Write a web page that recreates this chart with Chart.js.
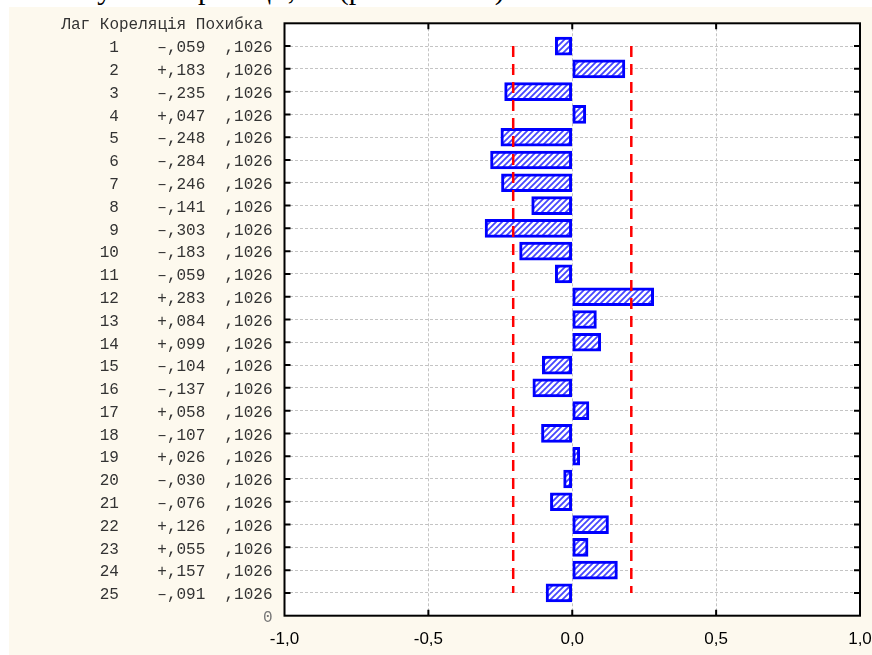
<!DOCTYPE html>
<html>
<head>
<meta charset="utf-8">
<script src="https://cdn.jsdelivr.net/npm/chart.js@4.4.1/dist/chart.umd.min.js"></script>
<style>
  html, body { margin: 0; padding: 0; background: #fff; overflow: hidden; width: 872px; height: 655px; position: relative; }
  #head { position: absolute; left: 21px; top: -25.6px; font: 30px/30px "Liberation Serif", "Times New Roman", serif; white-space: nowrap; color: #000; }
  #panel { position: absolute; left: 9px; top: 7px; width: 883px; height: 648px; background: #FDF9EE; }
  canvas { display: block; }
</style>
</head>
<body>
<div id="head">Отже у нас кореляції, як (рис. 2.10 та)</div>
<div id="panel"><canvas id="acf" width="883" height="648"></canvas></div>
<script>
// Autocorrelation by lag with its standard error
const lags = [1, 2, 3, 4, 5, 6, 7, 8, 9, 10, 11, 12, 13, 14, 15, 16, 17, 18, 19, 20, 21, 22, 23, 24, 25];
const correlations = [-0.059, 0.183, -0.235, 0.047, -0.248, -0.284, -0.246, -0.141, -0.303, -0.183,
                      -0.059, 0.283, 0.084, 0.099, -0.104, -0.137, 0.058, -0.107, 0.026, -0.030,
                      -0.076, 0.126, 0.055, 0.157, -0.091];
const stdErrors = [0.1026, 0.1026, 0.1026, 0.1026, 0.1026, 0.1026, 0.1026, 0.1026, 0.1026, 0.1026,
                   0.1026, 0.1026, 0.1026, 0.1026, 0.1026, 0.1026, 0.1026, 0.1026, 0.1026, 0.1026,
                   0.1026, 0.1026, 0.1026, 0.1026, 0.1026];
const xTickLabels = ['-1,0', '-0,5', '0,0', '0,5', '1,0'];
const headerText = 'Лаг Кореляція Похибка';
const bottomLabel = '0';

// Row label: lag, signed correlation, standard error (comma decimals)
const fmtCorr = v => (v < 0 ? '–' : '+') + ',' + String(Math.round(Math.abs(v) * 1000)).padStart(3, '0');
const fmtErr = s => ',' + String(Math.round(s * 10000));
const rowLabels = lags.map((l, i) =>
  String(l).padStart(2, ' ') + '    ' + fmtCorr(correlations[i]) + '  ' + fmtErr(stdErrors[i]));
const yLabels = [''].concat(rowLabels, [bottomLabel]);

// ±2 standard errors confidence limits
const upper = [null].concat(stdErrors.map(s => 2 * s), [null]);
const lower = [null].concat(stdErrors.map(s => -2 * s), [null]);
const barData = [null].concat(correlations, [null]);

const canvas = document.getElementById('acf');
const ctx = canvas.getContext('2d');

function hatchPattern() {
  const s = 6;
  const t = document.createElement('canvas');
  t.width = s; t.height = s;
  const g = t.getContext('2d');
  g.fillStyle = '#ffffff';
  g.fillRect(0, 0, s, s);
  g.strokeStyle = '#4646ff';
  g.lineWidth = 1.8;
  g.beginPath();
  g.moveTo(0, s); g.lineTo(s, 0);
  g.moveTo(-s / 2, s / 2); g.lineTo(s / 2, -s / 2);
  g.moveTo(s / 2, s * 1.5); g.lineTo(s * 1.5, s / 2);
  g.stroke();
  return ctx.createPattern(t, 'repeat');
}

// White plot background
const plotBg = {
  id: 'plotBg',
  beforeDraw(chart) {
    const { ctx: c, chartArea: a } = chart;
    c.save();
    c.fillStyle = '#ffffff';
    c.fillRect(a.left, a.top, a.right - a.left, a.bottom - a.top);
    c.restore();
  }
};

// Plot frame, inward tick marks and the column header
const framePlugin = {
  id: 'frame',
  afterDatasetsDraw(chart) {
    const { ctx: c, chartArea: a, scales: { x, y } } = chart;
    c.save();
    c.strokeStyle = '#000';
    c.lineWidth = 2;
    c.strokeRect(a.left, a.top, a.right - a.left, a.bottom - a.top);
    c.beginPath();
    for (let i = 1; i <= lags.length; i++) {
      const py = y.getPixelForValue(i);
      c.moveTo(a.left, py); c.lineTo(a.left + 6, py);
      c.moveTo(a.right, py); c.lineTo(a.right - 6, py);
    }
    x.ticks.forEach((t, i) => {
      if (i === 0 || i === x.ticks.length - 1) return;
      const px = x.getPixelForValue(t.value);
      c.moveTo(px, a.top); c.lineTo(px, a.top + 6);
      c.moveTo(px, a.bottom); c.lineTo(px, a.bottom - 6);
    });
    c.stroke();
    c.font = '16px "Liberation Mono", "Courier New", monospace';
    c.fillStyle = '#333';
    c.textAlign = 'right';
    c.textBaseline = 'middle';
    c.fillText(headerText, a.left - 21.5, a.top + 1.7);
    c.restore();
  }
};

new Chart(ctx, {
  type: 'bar',
  data: {
    labels: yLabels,
    datasets: [
      {
        type: 'line', label: '-2SE', data: lower, indexAxis: 'y',
        borderColor: '#ff0000', borderWidth: 2.5, borderDash: [11, 7],
        pointRadius: 0, fill: false, order: 0
      },
      {
        type: 'line', label: '+2SE', data: upper, indexAxis: 'y',
        borderColor: '#ff0000', borderWidth: 2.5, borderDash: [11, 7],
        pointRadius: 0, fill: false, order: 0
      },
      {
        type: 'bar', label: 'Кореляція', data: barData,
        backgroundColor: hatchPattern(), borderColor: '#0000ff', borderWidth: 3,
        borderSkipped: false, barThickness: 18, order: 1
      }
    ]
  },
  options: {
    indexAxis: 'y',
    responsive: false,
    animation: false,
    devicePixelRatio: 1,
    layout: { padding: { top: 16.3, right: 32, bottom: 0, left: 0 } },
    plugins: { legend: { display: false }, tooltip: { enabled: false } },
    scales: {
      x: {
        type: 'linear', min: -1, max: 1,
        ticks: {
          stepSize: 0.5,
          callback: (v, i) => xTickLabels[i],
          font: { family: '"Liberation Sans", Arial, sans-serif', size: 17 },
          color: '#000', padding: 13
        },
        grid: { color: '#c4c4c4', lineWidth: 1, drawTicks: false },
        border: { display: false, dash: [3, 2] },
        afterFit(s) { s.height = 39.3; s.paddingLeft = 0; s.paddingRight = 0; }
      },
      y: {
        type: 'category', offset: false,
        ticks: {
          autoSkip: false,
          font: { family: '"Liberation Mono", "Courier New", monospace', size: 16 },
          color: c => (c.index === yLabels.length - 1 ? '#777' : '#333'),
          padding: 12, labelOffset: 2
        },
        grid: { color: '#c4c4c4', lineWidth: 1, drawTicks: false, offset: false },
        border: { display: false, dash: [3, 2] },
        afterFit(s) { s.width = 275.5; s.paddingTop = 0; s.paddingBottom = 0; }
      }
    }
  },
  plugins: [plotBg, framePlugin]
});
</script>
</body>
</html>
